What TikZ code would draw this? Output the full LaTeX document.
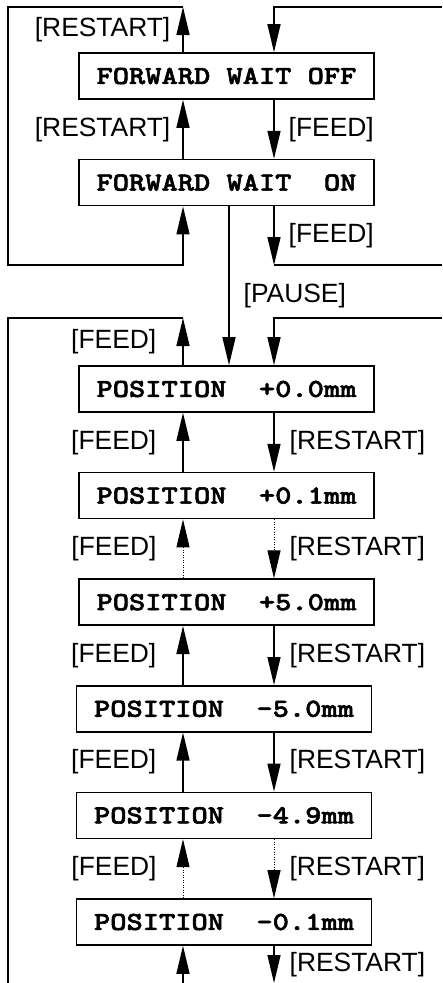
\documentclass[tikz,border=0pt]{standalone}
\usepackage{fontspec}
\setmainfont{Liberation Sans}
\newfontfamily\boxfont{lmmonolt10-bold.otf}[FakeStretch=1.19, FakeBold=2.2]
\usetikzlibrary{arrows.meta,positioning}

\begin{document}
\begin{tikzpicture}[
    x=1pt, y=-1pt,
    line width=1.4pt,
    node distance=59pt,
    every node/.style={font=\fontsize{26.4}{30}\selectfont, inner sep=2pt},
    state/.style={draw, line width=1.6pt, minimum width=295pt, minimum height=46pt,
      inner sep=0pt, font=\fontsize{26}{30}\selectfont\boxfont},
    arr/.style={-{Triangle[length=28pt, width=13pt]}},
    dots/.style={line width=1pt, dash pattern=on 1pt off 1.5pt},
  ]
    \useasboundingbox (0,0) rectangle (442,983);
    % columns and rows of the connectors
    \coordinate (L) at (183,0);
    \coordinate (R) at (274,0);
    \coordinate (P) at (229,0);
    \coordinate (lft) at (8,0);
    \coordinate (rgt) at (442,0);
    \coordinate (top) at (0,7);
    \coordinate (mid) at (0,265);
    \coordinate (low) at (0,318);
    \coordinate (bot) at (0,983);

    \node[state] (fwoff) at (226.5,76) {FORWARD WAIT OFF};
    \node[state, below=of fwoff] (fwon) {FORWARD WAIT~~ON};
    \node[state] (p00) at (226.5,389) {POSITION~~+0.0mm};
    \node[state, below=of p00] (p01) {POSITION~~+0.1mm};
    \node[state, below=of p01] (p50) {POSITION~~+5.0mm};
    \node[state, below=of p50, xshift=-2.5pt] (m50) {POSITION~~-5.0mm};
    \node[state, below=of m50] (m49) {POSITION~~-4.9mm};
    \node[state, below=of m49] (m01) {POSITION~~-0.1mm};

    % forward wait loop
    \draw[arr] (fwoff.north -| L) -- node[left=10pt] {[RESTART]} (top -| L);
    \draw[arr] (top -| L) -- (top -| lft) -- (mid -| lft) -- (mid -| L) -- (fwon.south -| L);
    \draw[arr] (top -| rgt) -- (top -| R) -- (fwoff.north -| R);
    \draw[arr] (fwoff.south -| R) -- node[right=12pt] {[FEED]} (fwon.north -| R);
    \draw[arr] (fwon.north -| L) -- node[left=10pt] {[RESTART]} (fwoff.south -| L);
    \draw[arr] (fwon.south -| R) -- node[right=12pt] {[FEED]} (mid -| R);
    \draw (mid -| R) -- (mid -| rgt);
    \draw[arr] (fwon.south -| P) -- node[pos=.56, right=12pt] {[PAUSE]} (p00.north -| P);

    % position loop
    \draw[arr] (p00.north -| L) -- node[left=24pt] {[FEED]} (low -| L);
    \draw (low -| L) -- (low -| lft) -- (bot -| lft);
    \draw[arr] (low -| rgt) -- (low -| R) -- (p00.north -| R);
    \foreach \a/\b/\s in {p00/p01/solid, p01/p50/dots, p50/m50/solid, m50/m49/solid, m49/m01/dots} {
      \draw[arr, \s] (\b.north -| L) -- node[left=24pt] {[FEED]} (\a.south -| L);
      \draw[arr, \s] (\a.south -| R) -- node[right=13pt] {[RESTART]} (\b.north -| R);
    }
    \draw[arr] (bot -| L) -- (m01.south -| L);
    \draw[arr] (m01.south -| R) -- node[right=13pt] {[RESTART]} (bot -| R);
\end{tikzpicture}
\end{document}
